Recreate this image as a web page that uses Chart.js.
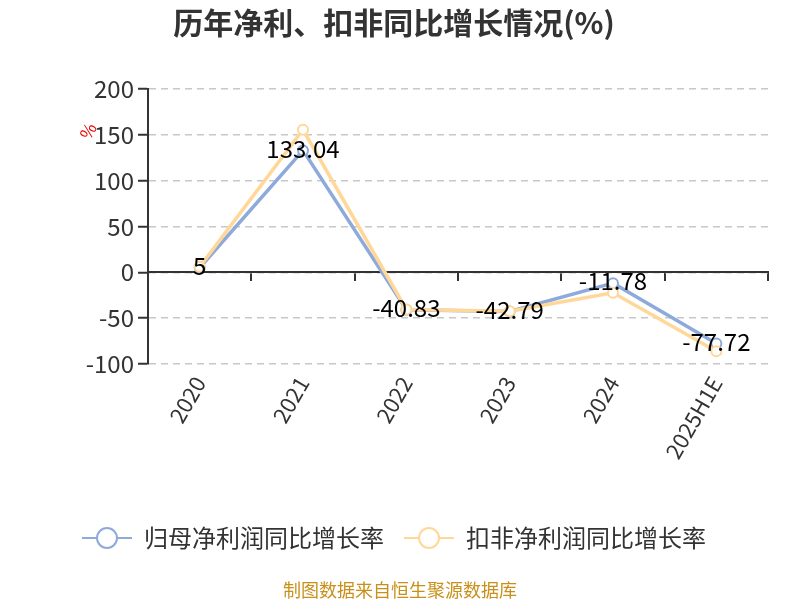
<!DOCTYPE html>
<html>
<head>
<meta charset="utf-8">
<script src="https://cdn.jsdelivr.net/npm/chart.js@4/dist/chart.umd.min.js"></script>
<style>
  html, body { margin: 0; padding: 0; background: #fff; }
  #wrap { width: 800px; height: 600px; }
</style>
</head>
<body>
<div id="wrap"><canvas id="lineChart" width="800" height="600"></canvas></div>
<script>
const years = ['2020', '2021', '2022', '2023', '2024', '2025H1E'];
const netProfitGrowth = [5, 133.04, -40.83, -42.79, -11.78, -77.72];
const deductedGrowth = [6, 155.5, -40.5, -42.4, -22.3, -86];
const yTicks = [-100, -50, 0, 50, 100, 150, 200];

const BLUE = '#8eaadb';
const ORANGE = '#ffd899';
const FONT = '"Noto Sans CJK SC", "Noto Sans", sans-serif';

// legend icon: short line with hollow circle
function legendIcon(color) {
    const c = document.createElement('canvas');
    c.width = 50; c.height = 26;
    const g = c.getContext('2d');
    g.strokeStyle = color;
    g.lineWidth = 2;
    g.beginPath(); g.moveTo(0, 13); g.lineTo(50, 13); g.stroke();
    g.beginPath(); g.arc(25, 13, 10, 0, Math.PI * 2);
    g.fillStyle = '#fff'; g.fill();
    g.lineWidth = 2; g.stroke();
    return c;
}

const extrasPlugin = {
    id: 'extras',
    afterDatasetsDraw(chart) {
        const ctx = chart.ctx;
        const meta = chart.getDatasetMeta(1);
        ctx.save();
        ctx.font = '24px ' + FONT;
        ctx.fillStyle = '#000';
        ctx.textAlign = 'center';
        ctx.textBaseline = 'middle';
        meta.data.forEach((pt, i) => {
            ctx.fillText(String(netProfitGrowth[i]), pt.x, pt.y - 2);
        });
        ctx.restore();
    },
    afterDraw(chart) {
        const ctx = chart.ctx;
        ctx.save();
        // unit mark
        ctx.translate(88, 131);
        ctx.rotate(-Math.PI / 3);
        ctx.font = '17px ' + FONT;
        ctx.fillStyle = '#e00';
        ctx.textAlign = 'center';
        ctx.textBaseline = 'middle';
        ctx.fillText('%', 0, 0);
        ctx.restore();
        ctx.save();
        ctx.font = '18px ' + FONT;
        ctx.fillStyle = '#c8901a';
        ctx.textAlign = 'center';
        ctx.textBaseline = 'middle';
        ctx.fillText('制图数据来自恒生聚源数据库', 400, 590);
        ctx.restore();
    }
};

new Chart(document.getElementById('lineChart'), {
    type: 'line',
    data: {
        labels: years,
        datasets: [{
            label: '扣非净利润同比增长率',
            data: deductedGrowth,
            borderColor: ORANGE,
            backgroundColor: '#fff',
            borderWidth: 3.5,
            pointRadius: 5,
            pointBorderWidth: 2,
            pointStyle: 'circle',
            order: 0,
            tension: 0
        }, {
            label: '归母净利润同比增长率',
            data: netProfitGrowth,
            borderColor: BLUE,
            backgroundColor: '#fff',
            borderWidth: 3.5,
            pointRadius: 5,
            pointBorderWidth: 2,
            pointStyle: 'circle',
            order: 1,
            tension: 0
        }]
    },
    options: {
        responsive: false,
        animation: false,
        layout: { padding: { left: 20, right: 32, top: 4, bottom: 40 } },
        plugins: {
            title: {
                display: true,
                text: '历年净利、扣非同比增长情况(%)',
                color: '#333',
                font: { family: FONT, size: 30, weight: 'bold' },
                padding: { top: 1, bottom: 48 }
            },
            legend: {
                position: 'bottom',
                labels: {
                    color: '#333',
                    font: { family: FONT, size: 24 },
                    usePointStyle: true,
                    pointStyleWidth: 50,
                    boxHeight: 24,
                    padding: 20,
                    sort: (a, b) => b.datasetIndex - a.datasetIndex,
                    generateLabels(chart) {
                        return chart.data.datasets.map((ds, i) => ({
                            text: ds.label,
                            datasetIndex: i,
                            fontColor: '#333',
                            pointStyle: legendIcon(ds.borderColor),
                            strokeStyle: ds.borderColor,
                            fillStyle: '#fff',
                            lineWidth: 0,
                            hidden: false
                        }));
                    }
                }
            },
            tooltip: { enabled: false }
        },
        scales: {
            x: {
                type: 'category',
                offset: true,
                grid: { display: false, drawTicks: false },
                border: { display: false },
                ticks: {
                    color: '#333',
                    font: { family: FONT, size: 22 },
                    minRotation: 60,
                    maxRotation: 60,
                    padding: 8
                },
                afterFit(scale) { scale.height = 142; }
            },
            x2: {
                type: 'category',
                axis: 'x',
                labels: years,
                position: { y: 0 },
                offset: true,
                grid: {
                    offset: true,
                    drawOnChartArea: false,
                    drawTicks: true,
                    tickLength: 8,
                    color: '#333',
                    lineWidth: 2
                },
                border: { display: true, color: '#333', width: 2 },
                ticks: { display: false }
            },
            y: {
                min: -100,
                max: 200,
                afterBuildTicks(scale) { scale.ticks = yTicks.map(v => ({ value: v })); },
                grid: {
                    color: '#c8c8c8',
                    lineWidth: 1.5,
                    tickLength: 10,
                    tickColor: '#333',
                    tickWidth: 2
                },
                border: { display: true, color: '#333', width: 2, dash: [7, 5] },
                ticks: {
                    color: '#333',
                    font: { family: FONT, size: 24 },
                    padding: 4
                },
                afterFit(scale) { scale.width = 128; }
            }
        }
    },
    plugins: [extrasPlugin]
});
</script>
</body>
</html>
